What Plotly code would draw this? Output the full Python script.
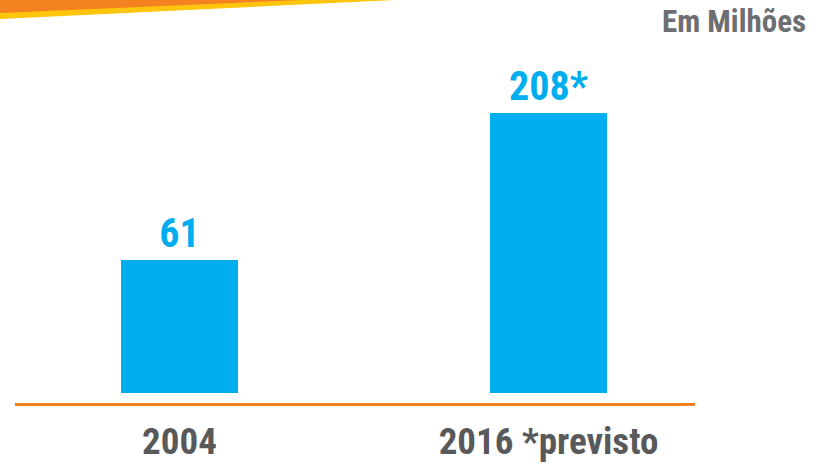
import plotly.graph_objects as go

categories = ["2004", "2016 *previsto"]
values = [61, 208]
value_labels = ["61", "208*"]
unit_label = "Em Milhões"

FONT = "Roboto Condensed, Roboto, DejaVu Sans Condensed, sans-serif"
BLUE = "#00AEEF"
GRAY = "#58595B"
ORANGE = "#F58220"
YELLOW = "#FFC40C"

W, H = 822, 466
L, R, T, B = 15, 127, 60, 73
PW, PH = W - L - R, H - T - B

def px(x):
    return (x - L) / PW

def py(y):
    return (H - B - y) / PH

fig = go.Figure(go.Bar(
    x=list(range(len(categories))),
    y=values,
    text=value_labels,
    textposition="outside",
    cliponaxis=False,
    width=0.317,
    marker=dict(color=BLUE, line=dict(width=0)),
    textfont=dict(family=FONT, size=40, color=BLUE, weight="bold"),
))

fig.update_layout(
    width=W, height=H,
    margin=dict(l=L, r=R, t=T, b=B, autoexpand=False),
    paper_bgcolor="white", plot_bgcolor="white",
    showlegend=False,
    bargap=0,
    xaxis=dict(
        range=[-0.4458, 1.397],
        tickvals=list(range(len(categories))),
        ticktext=categories,
        tickfont=dict(family=FONT, size=37, color=GRAY, weight="bold"),
        showgrid=False, zeroline=False, showline=False, ticks="",
        ticklabelstandoff=23, automargin=False,
    ),
    yaxis=dict(
        type="log",
        range=[1.30334, 2.51013],
        visible=False, showgrid=False, zeroline=False, automargin=False,
    ),
    shapes=[
        dict(type="path", xref="paper", yref="paper",
             path=f"M {px(0)},{py(0)} L {px(395)},{py(0)} L {px(0)},{py(19)} Z",
             fillcolor=YELLOW, line=dict(width=0), layer="above"),
        dict(type="path", xref="paper", yref="paper",
             path=f"M {px(0)},{py(0)} L {px(300)},{py(0)} L {px(0)},{py(13)} Z",
             fillcolor=ORANGE, line=dict(width=0), layer="above"),
        dict(type="line", xref="paper", yref="paper",
             x0=0, x1=1, y0=py(404.5), y1=py(404.5),
             line=dict(color=ORANGE, width=3)),
    ],
    annotations=[
        dict(text=unit_label, xref="paper", yref="paper",
             x=px(808), y=py(22), xanchor="right", yanchor="middle",
             showarrow=False,
             font=dict(family=FONT, size=31, color="#6D6E71", weight="bold")),
    ],
)

fig.write_html(
    "out.html",
    config={"displayModeBar": False},
    post_script="document.body.style.margin='0';document.body.style.overflow='hidden';",
)
